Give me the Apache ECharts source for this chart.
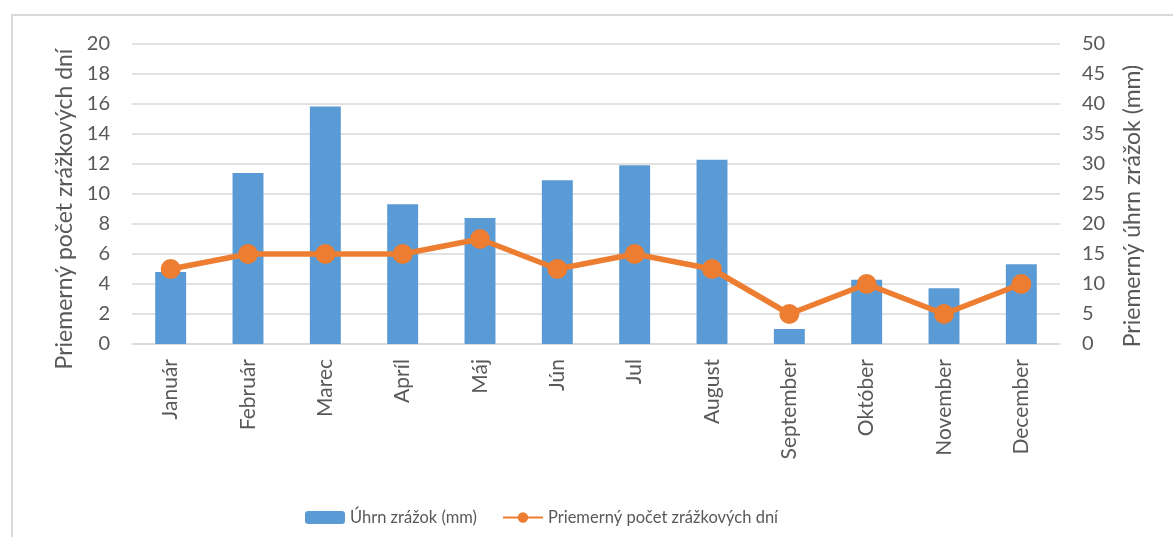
<!DOCTYPE html>
<html lang="sk">
<head>
    <meta charset="utf-8" />
    <title>Zrážky</title>
    <script src="https://cdn.jsdelivr.net/npm/echarts@6/dist/echarts.min.js"></script>
    <style>
        html, body { margin: 0; padding: 0; background: #fff; }
        #frame { position: absolute; left: 11px; top: 14px; width: 1200px; height: 560px; border: 2px solid #d9d9d9; box-sizing: border-box; }
        #chart { position: absolute; left: 0; top: 0; width: 1173px; height: 537px; }
    </style>
    <script>
        // dáta grafu
        var mesiace = ['Január', 'Február', 'Marec', 'Apríl', 'Máj', 'Jún', 'Jul', 'August', 'September', 'Október', 'November', 'December'];
        var uhrnZrazok = [12, 28.5, 39.6, 23.3, 21, 27.3, 29.8, 30.7, 2.5, 10.7, 9.3, 13.3];   // mm, pravá os
        var pocetDni = [5, 6, 6, 6, 7, 5, 6, 5, 2, 4, 2, 4];   // dni, ľavá os
        var lavaOsMax = 20, lavaOsKrok = 2;
        var pravaOsMax = 50, pravaOsKrok = 5;
    </script>
</head>
<body>
    <div id="frame"></div>
    <div id="chart"></div>
    <script>
        var font = 'Lato';
        var textColor = '#595959';
        var gridColor = '#d9d9d9';

        var option = {
            animation: false,
            textStyle: { fontFamily: font },
            grid: { left: 132, right: 113, top: 44, bottom: 193 },
            legend: {
                left: 300, bottom: 6,
                itemWidth: 40, itemHeight: 13, itemGap: 25,
                textStyle: { fontFamily: font, fontSize: 16.5, color: textColor },
                data: ['Úhrn zrážok (mm)', 'Priemerný počet zrážkových dní']
            },
            xAxis: {
                type: 'category',
                data: mesiace,
                axisLine: { lineStyle: { color: gridColor, width: 1.5 } },
                axisTick: { show: false },
                axisLabel: { rotate: 90, margin: 15, fontSize: 21, color: textColor, fontFamily: font }
            },
            yAxis: [{
                type: 'value', min: 0, max: lavaOsMax, interval: lavaOsKrok,
                name: 'Priemerný počet zrážkových dní',
                nameLocation: 'middle', nameGap: 56,
                nameTextStyle: { fontSize: 23, color: textColor, fontFamily: font, padding: [0, 30, 0, 0] },
                axisLine: { show: false }, axisTick: { show: false },
                axisLabel: { fontSize: 20, color: textColor, margin: 22, fontFamily: font },
                splitLine: { lineStyle: { color: gridColor, width: 1.5 } }
            }, {
                type: 'value', min: 0, max: pravaOsMax, interval: pravaOsKrok,
                name: 'Priemerný úhrn zrážok (mm)',
                nameLocation: 'middle', nameGap: 61,
                nameTextStyle: { fontSize: 23, color: textColor, fontFamily: font, padding: [0, 24, 0, 0] },
                axisLine: { show: false }, axisTick: { show: false },
                axisLabel: { fontSize: 20, color: textColor, margin: 22, fontFamily: font },
                splitLine: { show: false }
            }],
            series: [{
                name: 'Úhrn zrážok (mm)',
                type: 'bar',
                yAxisIndex: 1,
                barWidth: '40%',
                itemStyle: { color: '#5b9bd5' },
                data: uhrnZrazok
            }, {
                name: 'Priemerný počet zrážkových dní',
                type: 'line',
                yAxisIndex: 0,
                symbol: 'circle', symbolSize: 20,
                lineStyle: { color: '#ed7d31', width: 5.5 },
                itemStyle: { color: '#ed7d31' },
                z: 5,
                data: pocetDni
            }]
        };
        echarts.init(document.getElementById('chart')).setOption(option);
    </script>
</body>
</html>
